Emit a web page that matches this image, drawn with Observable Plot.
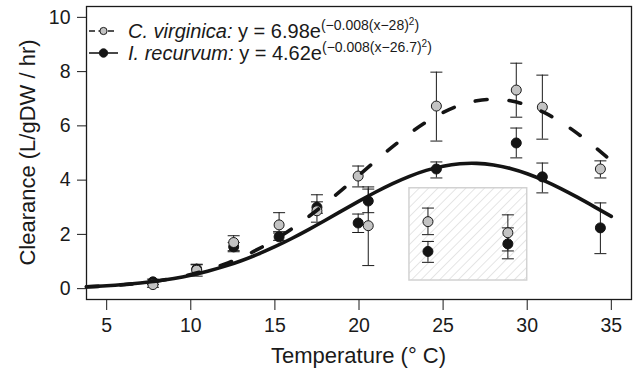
<!DOCTYPE html>
<html><head><meta charset="utf-8">
<script src="https://cdn.jsdelivr.net/npm/d3@7"></script>
<script src="https://cdn.jsdelivr.net/npm/@observablehq/plot@0.6"></script>
<style>
body{margin:0;background:#fff}
#chart svg{display:block}
</style>
</head><body><div id="chart"></div>
<script>
// ---- data ----
const temps          = [7.75, 10.35, 12.55, 15.25, 17.5, 19.95, 20.55, 24.1, 24.6, 28.85, 29.35, 30.9, 34.35];
const virginicaMean  = [0.15, 0.68, 1.70, 2.35, 2.87, 4.15, 2.32, 2.47, 6.73, 2.06, 7.32, 6.69, 4.41];
const virginicaLow   = [0.05, 0.46, 1.36, 2.10, 2.45, 3.75, 0.85, 1.99, 5.44, 1.39, 6.32, 5.51, 4.08];
const virginicaHigh  = [0.25, 0.88, 1.95, 2.80, 3.46, 4.52, 3.75, 2.97, 7.98, 2.72, 8.31, 7.87, 4.71];
const recurvumMean   = [0.25, 0.72, 1.54, 1.91, 3.00, 2.42, 3.23, 1.37, 4.41, 1.65, 5.37, 4.12, 2.24];
const recurvumLow    = [0.15, 0.55, 1.40, 1.78, 2.78, 2.07, 2.80, 0.97, 4.08, 1.10, 4.82, 3.53, 1.29];
const recurvumHigh   = [0.35, 0.90, 1.70, 2.05, 3.20, 2.75, 3.67, 1.74, 4.67, 2.24, 5.92, 4.63, 3.16];

const curveTemps     = [3.8, 4, 5, 6, 7, 8, 9, 10, 11, 12, 13, 14, 15, 16, 17, 18, 19, 20, 21, 22, 23, 24, 25, 26, 27, 28, 29, 30, 31, 32, 33, 34, 35];
const virginicaFit   = [0.064, 0.070, 0.101, 0.145, 0.205, 0.285, 0.389, 0.523, 0.691, 0.900, 1.154, 1.455, 1.806, 2.206, 2.652, 3.136, 3.651, 4.183, 4.717, 5.234, 5.715, 6.142, 6.495, 6.760, 6.924, 6.980, 6.924, 6.760, 6.495, 6.142, 5.715, 5.234, 4.717];
const recurvumFit    = [0.070, 0.075, 0.107, 0.150, 0.207, 0.282, 0.377, 0.496, 0.643, 0.820, 1.029, 1.272, 1.545, 1.849, 2.177, 2.522, 2.875, 3.226, 3.563, 3.872, 4.141, 4.359, 4.514, 4.602, 4.617, 4.558, 4.429, 4.235, 3.985, 3.690, 3.363, 3.016, 2.662];

const boxTemps       = [23, 30];
const boxClearance   = [0.3, 3.7];

const xTicks = [5, 10, 15, 20, 25, 30, 35];
const yTicks = [0, 2, 4, 6, 8, 10];

const legendNames    = ["C. virginica:", "I. recurvum:"];
const legendCoef     = ["6.98", "4.62"];
const legendCenter   = ["28", "26.7"];

// ---- tables built from the arrays ----
const pts = temps.map((t, i) => ({
  t, vm: virginicaMean[i], vl: virginicaLow[i], vh: virginicaHigh[i],
  rm: recurvumMean[i], rl: recurvumLow[i], rh: recurvumHigh[i]
}));
const fit = curveTemps.map((t, i) => ({t, v: virginicaFit[i], r: recurvumFit[i]}));
const box = [{x1: boxTemps[0], x2: boxTemps[1], y1: boxClearance[0], y2: boxClearance[1]}];

const capSymbol = {draw(ctx, size) { const w = Math.sqrt(size / Math.PI); ctx.moveTo(-w, 0); ctx.lineTo(w, 0); }};

const FONT = "'Liberation Sans', Arial, Helvetica, sans-serif";
const W = 637, H = 374;
const mL = 86, mR = 6, mT = 6, mB = 75;

const chart = Plot.plot({
  width: W, height: H,
  marginLeft: mL, marginRight: mR, marginTop: mT, marginBottom: mB,
  style: {fontFamily: FONT, fontSize: "19.5px", color: "#1a1a1a", background: "#fff"},
  x: {domain: [3.8, 36.2]},
  y: {domain: [-0.4, 10.4]},
  marks: [
    Plot.rect(box, {x1: "x1", x2: "x2", y1: "y1", y2: "y2", fill: "url(#hatch)", stroke: "#d2d2d2", strokeWidth: 1.5}),
    // error bars
    Plot.ruleX(pts, {x: "t", y1: "rl", y2: "rh", stroke: "#1a1a1a", strokeWidth: 1}),
    Plot.ruleX(pts, {x: "t", y1: "vl", y2: "vh", stroke: "#1a1a1a", strokeWidth: 1}),
    Plot.dot(pts, {x: "t", y: "rl", symbol: capSymbol, r: 6, stroke: "#1a1a1a", strokeWidth: 1}),
    Plot.dot(pts, {x: "t", y: "rh", symbol: capSymbol, r: 6, stroke: "#1a1a1a", strokeWidth: 1}),
    Plot.dot(pts, {x: "t", y: "vl", symbol: capSymbol, r: 6, stroke: "#1a1a1a", strokeWidth: 1}),
    Plot.dot(pts, {x: "t", y: "vh", symbol: capSymbol, r: 6, stroke: "#1a1a1a", strokeWidth: 1}),
    // points
    Plot.dot(pts, {x: "t", y: "rm", r: 5, fill: "#141414", stroke: "#141414", strokeWidth: 1}),
    Plot.dot(pts, {x: "t", y: "vm", r: 5, fill: "#c3c3c3", stroke: "#1a1a1a", strokeWidth: 1}),
    // fitted curves
    Plot.line(fit, {x: "t", y: "v", curve: "natural", stroke: "#141414", strokeWidth: 3.6, strokeDasharray: "12,22", strokeLinecap: "round"}),
    Plot.line(fit, {x: "t", y: "r", curve: "natural", stroke: "#141414", strokeWidth: 3.6}),
    Plot.frame({stroke: "#1a1a1a", strokeWidth: 1.3}),
    Plot.axisX({ticks: xTicks, tickSize: 11, tickPadding: 8, label: null, fontSize: 19.5, stroke: "#1a1a1a"}),
    Plot.axisY({ticks: yTicks, tickSize: 9, tickPadding: 7, label: null, fontSize: 19.5, stroke: "#1a1a1a"})
  ]
});

const svg = d3.select(chart);
const defs = svg.insert("defs", ":first-child");
const pat = defs.append("pattern").attr("id", "hatch").attr("patternUnits", "userSpaceOnUse")
  .attr("width", 6.6).attr("height", 6.6).attr("patternTransform", "rotate(45)");
pat.append("rect").attr("width", 6.6).attr("height", 6.6).attr("fill", "#fff");
pat.append("line").attr("x1", 0).attr("y1", 0).attr("x2", 0).attr("y2", 6.6).attr("stroke", "#d2d2d2").attr("stroke-width", 1.1);

// axis titles
svg.append("text").attr("x", (mL + W - mR) / 2).attr("y", 363).attr("text-anchor", "middle")
  .attr("font-family", FONT).attr("font-size", 22).attr("fill", "#1a1a1a").text("Temperature (\u00B0 C)");
svg.append("text").attr("transform", `translate(35,${(mT + H - mB) / 2}) rotate(-90)`).attr("text-anchor", "middle")
  .attr("font-family", FONT).attr("font-size", 22).attr("fill", "#1a1a1a").text("Clearance (L/gDW / hr)");

// legend
const lg = svg.append("g").attr("font-family", FONT).attr("fill", "#1a1a1a").attr("text-anchor", "start");
[0, 1].forEach(i => {
  const by = 38 + i * 22, ly = by - 7;
  lg.append("line").attr("x1", 89).attr("x2", 118).attr("y1", ly).attr("y2", ly)
    .attr("stroke", "#1a1a1a").attr("stroke-width", 1.6)
    .attr("stroke-dasharray", i === 0 ? "6,3.5,6,3.5,6" : null);
  lg.append("circle").attr("cx", 103.5).attr("cy", ly).attr("r", i === 0 ? 3.6 : 4.2)
    .attr("fill", i === 0 ? "#c3c3c3" : "#141414").attr("stroke", "#1a1a1a").attr("stroke-width", 1);
  const t = lg.append("text").attr("x", 128).attr("y", by).attr("font-size", 20).attr("text-anchor", "start");
  t.append("tspan").attr("font-style", "italic").text(legendNames[i]);
  t.append("tspan").text(` y = ${legendCoef[i]}e`);
  t.append("tspan").attr("font-size", 14).attr("dy", -8).text(`(\u22120.008(x\u2212${legendCenter[i]})`);
  t.append("tspan").attr("font-size", 10).attr("dy", -5).text("2");
  t.append("tspan").attr("font-size", 14).attr("dy", 5).text(")");
});

document.getElementById("chart").appendChild(chart);
</script>
</body></html>
